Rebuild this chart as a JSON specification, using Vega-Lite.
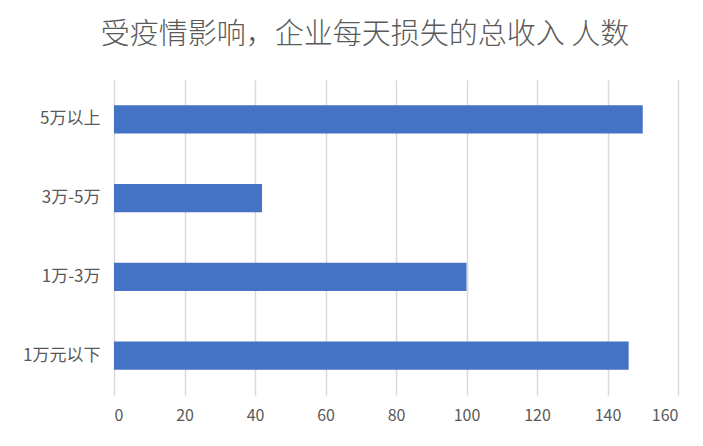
{
  "$schema": "https://vega.github.io/schema/vega-lite/v6.json",
  "width": 564,
  "height": 315,
  "autosize": {"type": "none"},
  "padding": {"left": 114, "top": 80, "right": 25, "bottom": 51},
  "background": "white",
  "title": {
    "text": "受疫情影响，企业每天损失的总收入 人数",
    "font": "Noto Sans CJK SC",
    "fontSize": 29,
    "fontWeight": 300,
    "color": "#595959",
    "anchor": "middle",
    "dx": -31,
    "offset": 30
  },
  "data": {
    "values": [
      {"category": "5万以上", "count": 150},
      {"category": "3万-5万", "count": 42},
      {"category": "1万-3万", "count": 100},
      {"category": "1万元以下", "count": 146}
    ]
  },
  "mark": {"type": "bar", "color": "#4472C4"},
  "encoding": {
    "y": {
      "field": "category",
      "type": "nominal",
      "sort": null,
      "scale": {"paddingInner": 0.644, "paddingOuter": 0.322},
      "axis": {
        "title": null,
        "domain": false,
        "ticks": false,
        "labelFont": "Noto Sans CJK SC",
        "labelFontSize": 17,
        "labelColor": "#595959",
        "labelPadding": 14
      }
    },
    "x": {
      "field": "count",
      "type": "quantitative",
      "scale": {"domain": [0, 160], "nice": false},
      "axis": {
        "title": null,
        "values": [0, 20, 40, 60, 80, 100, 120, 140, 160],
        "domain": false,
        "ticks": false,
        "grid": true,
        "gridColor": "#d9d9d9",
        "gridWidth": 1.5,
        "labelFont": "Noto Sans CJK SC",
        "labelFontSize": 16,
        "labelColor": "#595959",
        "labelPadding": 12
      }
    }
  },
  "config": {"view": {"stroke": null}}
}
